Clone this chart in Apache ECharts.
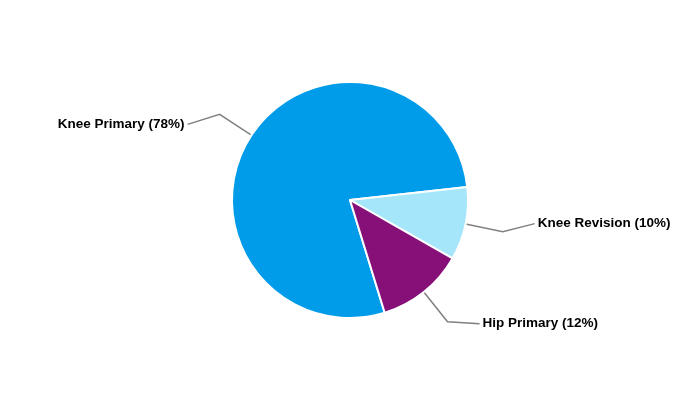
<!DOCTYPE html>
<html>
<head>
<meta charset="utf-8">
<script src="https://cdn.jsdelivr.net/npm/echarts@6/dist/echarts.min.js"></script>
<style>html,body{margin:0;padding:0;background:#fff;}#c{width:700px;height:400px;}</style>
</head>
<body>
<div id="c"></div>
<script>
var categories = ['Knee Primary', 'Knee Revision', 'Hip Primary'];
var values = [78, 10, 12];
var colors = ['#009cea', '#a5e6fb', '#860f78'];
var labelShiftY = [10, -8, 2];

var chart = echarts.init(document.getElementById('c'), null, {renderer: 'canvas'});
var data = categories.map(function (n, i) {
  return { name: n, value: values[i], itemStyle: { color: colors[i] } };
});
chart.setOption({
  animation: false,
  backgroundColor: '#ffffff',
  series: [{
    type: 'pie',
    center: [350, 200],
    radius: [0, 118],
    startAngle: 287.1,
    clockwise: true,
    data: data,
    itemStyle: { borderColor: '#ffffff', borderWidth: 2 },
    label: {
      formatter: '{b} ({c}%)',
      color: '#000000',
      fontFamily: 'Liberation Sans, Arial, sans-serif',
      fontWeight: 'bold',
      fontSize: 13.5,
      distanceToLabelLine: 3
    },
    labelLine: {
      length: 38,
      length2: 32,
      lineStyle: { color: '#808080', width: 1.5 }
    },
    labelLayout: function (p) {
      var dy = labelShiftY[p.dataIndex];
      var pts = (p.labelLinePoints || []).map(function (q) { return [q[0], q[1]]; });
      if (pts.length) { pts[pts.length - 1][1] += dy; }
      return { dy: dy, labelLinePoints: pts };
    }
  }]
});
</script>
</body>
</html>
